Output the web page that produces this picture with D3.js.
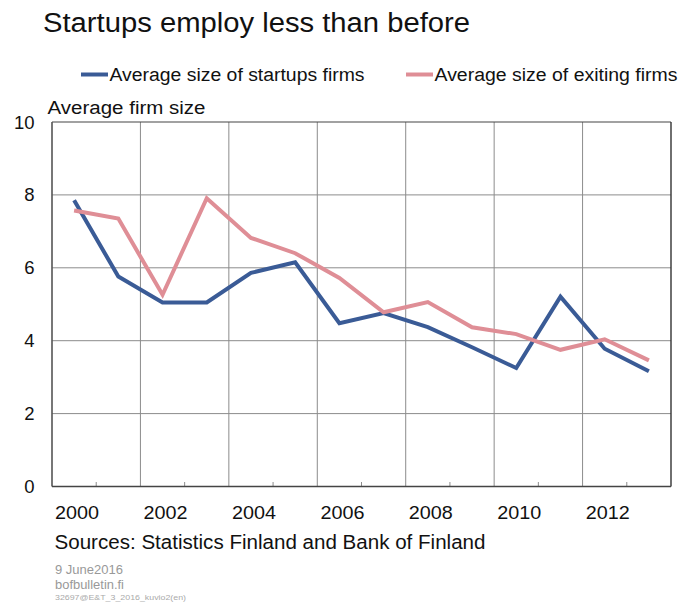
<!DOCTYPE html>
<html>
<head>
<meta charset="utf-8">
<script src="https://cdn.jsdelivr.net/npm/d3@7"></script>
<style>
  html, body { margin: 0; padding: 0; background: #fff; }
  svg { display: block; font-family: "Liberation Sans", Arial, sans-serif; }
</style>
</head>
<body>
<svg id="chart" width="682" height="606"></svg>
<script>
const years = [2000, 2001, 2002, 2003, 2004, 2005, 2006, 2007, 2008, 2009, 2010, 2011, 2012, 2013];
const startupSize = [7.85, 5.76, 5.05, 5.05, 5.86, 6.15, 4.48, 4.76, 4.37, 3.82, 3.25, 5.21, 3.78, 3.16];
const exitingSize = [7.57, 7.35, 5.26, 7.91, 6.82, 6.40, 5.72, 4.78, 5.06, 4.37, 4.18, 3.75, 4.04, 3.46];
const yTicks = [0, 2, 4, 6, 8, 10];
const xTickLabels = [2000, 2002, 2004, 2006, 2008, 2010, 2012];
const seriesNames = ["Average size of startups firms", "Average size of exiting firms"];
const seriesColors = ["#3a5b96", "#df8e96"];

const svg = d3.select("#chart");
const pLeft = 52, pRight = 671, pTop = 122, pBottom = 486.5;

const x = d3.scaleBand().domain(years).range([pLeft, pRight]).padding(0);
const y = d3.scaleLinear().domain([0, 10]).range([pBottom, pTop]);
const cx = d => x(d) + x.bandwidth() / 2;

function txt(xp, yp, size, fill, s, len) {
  const t = svg.append("text").attr("x", xp).attr("y", yp)
    .attr("font-size", size).attr("fill", fill).text(s);
  if (len) t.attr("textLength", len).attr("lengthAdjust", "spacingAndGlyphs");
  return t;
}

// Title
txt(43, 31.5, 27, "#111", "Startups employ less than before", 427);

// Legend
const legendItems = [{x: 81, name: seriesNames[0], color: seriesColors[0], len: 255},
                     {x: 406, name: seriesNames[1], color: seriesColors[1], len: 243}];
legendItems.forEach(it => {
  svg.append("line").attr("x1", it.x).attr("x2", it.x + 27)
    .attr("y1", 74.5).attr("y2", 74.5)
    .attr("stroke", it.color).attr("stroke-width", 4);
  txt(it.x + 28.5, 81, 18, "#111", it.name, it.len);
});

// Axis title
txt(47.5, 114, 18, "#111", "Average firm size", 158);

// Horizontal gridlines
svg.append("g").selectAll("line").data(yTicks.filter(v => v > 0 && v < 10)).join("line")
  .attr("x1", pLeft).attr("x2", pRight)
  .attr("y1", d => y(d)).attr("y2", d => y(d))
  .attr("stroke", "#8c8c8c").attr("stroke-width", 1);

// Vertical gridlines at band boundaries every 2 years
const gridIdx = years.map((d, i) => i).filter(i => i > 0 && i % 2 === 0);
svg.append("g").selectAll("line").data(gridIdx).join("line")
  .attr("x1", i => x(years[i])).attr("x2", i => x(years[i]))
  .attr("y1", pTop).attr("y2", pBottom)
  .attr("stroke", "#8c8c8c").attr("stroke-width", 1);

// Minor ticks at odd boundaries
const tickIdx = years.map((d, i) => i).filter(i => i % 2 === 1);
svg.append("g").selectAll("line").data(tickIdx).join("line")
  .attr("x1", i => x(years[i])).attr("x2", i => x(years[i]))
  .attr("y1", pBottom).attr("y2", pBottom - 4.5)
  .attr("stroke", "#8c8c8c").attr("stroke-width", 1);

// Plot frame
svg.append("line").attr("x1", pLeft).attr("x2", pRight).attr("y1", pTop).attr("y2", pTop)
  .attr("stroke", "#444").attr("stroke-width", 1.2);
svg.append("line").attr("x1", pRight).attr("x2", pRight).attr("y1", pTop).attr("y2", pBottom)
  .attr("stroke", "#333").attr("stroke-width", 1.4);
svg.append("line").attr("x1", pLeft).attr("x2", pLeft).attr("y1", pTop).attr("y2", pBottom)
  .attr("stroke", "#555").attr("stroke-width", 1.6);
svg.append("line").attr("x1", pLeft).attr("x2", pRight).attr("y1", pBottom).attr("y2", pBottom)
  .attr("stroke", "#444").attr("stroke-width", 1.6);

// Y tick labels
svg.append("g").selectAll("text").data(yTicks).join("text")
  .attr("x", 34.5).attr("y", d => y(d) + 6.5)
  .attr("text-anchor", "end").attr("font-size", 18.5).attr("fill", "#111")
  .text(d => d);

// X tick labels
svg.append("g").selectAll("text").data(xTickLabels).join("text")
  .attr("x", d => cx(d) + 3).attr("y", 518.5)
  .attr("text-anchor", "middle").attr("font-size", 19).attr("fill", "#111")
  .attr("textLength", 44).attr("lengthAdjust", "spacingAndGlyphs")
  .text(d => d);

// Lines
const lineGen = d3.line().x((d, i) => cx(years[i])).y(d => y(d));
[startupSize, exitingSize].forEach((s, k) => {
  svg.append("path").datum(s).attr("d", lineGen)
    .attr("fill", "none").attr("stroke", seriesColors[k])
    .attr("stroke-width", 4).attr("stroke-linejoin", "miter");
});

// Sources
txt(54.5, 548.5, 20, "#111", "Sources: Statistics Finland and Bank of Finland", 431);

// Footer
txt(55, 573.5, 12, "#999", "9 June2016", 68);
txt(55, 588.5, 12, "#999", "bofbulletin.fi", 69);
txt(55, 600, 8, "#aaa", "32697@E&T_3_2016_kuvio2(en)", 131);
</script>
</body>
</html>
